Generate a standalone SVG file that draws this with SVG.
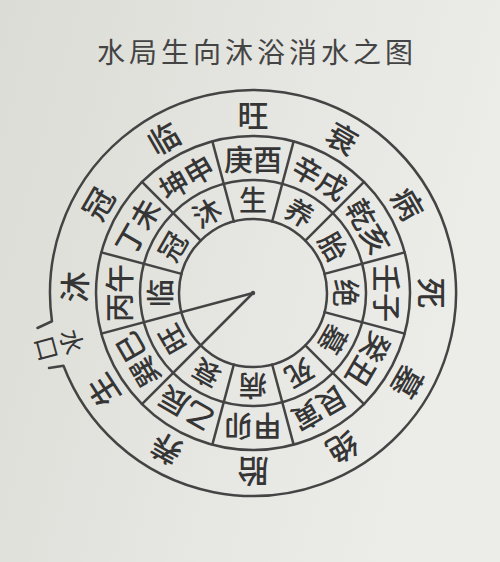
<svg xmlns="http://www.w3.org/2000/svg" width="500" height="562" viewBox="0 0 500 562">
<defs>
<linearGradient id="paper" x1="0" y1="0" x2="1" y2="0.3">
<stop offset="0" stop-color="#dcdcd6"/>
<stop offset="0.6" stop-color="#e6e6e2"/>
<stop offset="1" stop-color="#ecece9"/>
</linearGradient>
</defs>
<style>
.ln{fill:none;stroke:#444;stroke-width:2.5;stroke-linecap:round;stroke-linejoin:round}
text{font-family:"Noto Sans CJK SC","Noto Sans CJK TC",sans-serif;fill:#353535;text-anchor:middle;dominant-baseline:central}
.title{font-size:28px;letter-spacing:4px;fill:#444}
.outer{font-size:31px;font-weight:500}
.mid{font-size:29px;font-weight:500}
.inner{font-size:28px;font-weight:500}
.small{font-size:25px}
</style>
<rect width="500" height="562" fill="url(#paper)"/>
<text class="title" x="257" y="51">水局生向沐浴消水之图</text>

<g id="rings" class="ln">
<path d="M37.5,328 L51.97,321.25 A203,203 0 1 1 63.48,365.75 L49,368"/>
<circle cx="253" cy="293" r="157"/>
<circle cx="253" cy="293" r="113"/>
<circle cx="253" cy="293" r="74"/>
</g>

<g id="connectors" class="ln" transform="translate(253,293)">
<line x1="0" y1="-74" x2="0" y2="-157" transform="rotate(15)"/>
<line x1="0" y1="-74" x2="0" y2="-157" transform="rotate(45)"/>
<line x1="0" y1="-74" x2="0" y2="-157" transform="rotate(75)"/>
<line x1="0" y1="-74" x2="0" y2="-157" transform="rotate(105)"/>
<line x1="0" y1="-74" x2="0" y2="-157" transform="rotate(135)"/>
<line x1="0" y1="-74" x2="0" y2="-157" transform="rotate(165)"/>
<line x1="0" y1="-74" x2="0" y2="-157" transform="rotate(195)"/>
<line x1="0" y1="0" x2="0" y2="-157" transform="rotate(225)"/>
<line x1="0" y1="0" x2="0" y2="-157" transform="rotate(255)"/>
<line x1="0" y1="-74" x2="0" y2="-157" transform="rotate(285)"/>
<line x1="0" y1="-74" x2="0" y2="-157" transform="rotate(315)"/>
<line x1="0" y1="-74" x2="0" y2="-157" transform="rotate(345)"/>
<circle cx="0" cy="0" r="2.2" fill="#444" stroke="none"/>
</g>

<g id="outer-stages" transform="translate(253,293)">
<text class="outer" transform="rotate(0) translate(0,-180)">旺</text>
<text class="outer" transform="rotate(30) translate(0,-180)">衰</text>
<text class="outer" transform="rotate(60) translate(0,-180)">病</text>
<text class="outer" transform="rotate(90) translate(0,-180)">死</text>
<text class="outer" transform="rotate(120) translate(0,-180)">墓</text>
<text class="outer" transform="rotate(150) translate(0,-180)">绝</text>
<text class="outer" transform="rotate(180) translate(0,-180)">胎</text>
<text class="outer" transform="rotate(209) translate(0,-180)">养</text>
<text class="outer" transform="rotate(237) translate(0,-180)">生</text>
<text class="outer" transform="rotate(272) translate(0,-180)">沐</text>
<text class="outer" transform="rotate(300) translate(0,-180)">冠</text>
<text class="outer" transform="rotate(330) translate(0,-180)">临</text>
</g>

<g id="water-mouth" transform="translate(253,293)">
<text class="small" transform="rotate(255) translate(0,-186) rotate(180)">水</text>
<text class="small" transform="rotate(255) translate(0,-212) rotate(180)">口</text>
</g>

<g id="branches" transform="translate(253,293)">
<text class="mid" transform="rotate(0) translate(0,-135)">庚酉</text>
<text class="mid" transform="rotate(30) translate(0,-135)">辛戌</text>
<text class="mid" transform="rotate(60) translate(0,-135)">乾亥</text>
<text class="mid" transform="rotate(90) translate(0,-135)">壬子</text>
<text class="mid" transform="rotate(120) translate(0,-135)">癸丑</text>
<text class="mid" transform="rotate(150) translate(0,-135)">艮寅</text>
<text class="mid" transform="rotate(180) translate(0,-135)">甲卯</text>
<text class="mid" transform="rotate(210) translate(0,-135)">乙辰</text>
<text class="mid" transform="rotate(240) translate(0,-135)">巽巳</text>
<text class="mid" transform="rotate(270) translate(0,-135)">丙午</text>
<text class="mid" transform="rotate(300) translate(0,-135)">丁未</text>
<text class="mid" transform="rotate(330) translate(0,-135)">坤申</text>
</g>

<g id="inner-stages" transform="translate(253,293)">
<text class="inner" transform="rotate(0) translate(0,-94)">生</text>
<text class="inner" transform="rotate(30) translate(0,-94)">养</text>
<text class="inner" transform="rotate(60) translate(0,-94)">胎</text>
<text class="inner" transform="rotate(90) translate(0,-94)">绝</text>
<text class="inner" transform="rotate(120) translate(0,-94)">墓</text>
<text class="inner" transform="rotate(150) translate(0,-94)">死</text>
<text class="inner" transform="rotate(180) translate(0,-94)">病</text>
<text class="inner" transform="rotate(210) translate(0,-94)">衰</text>
<text class="inner" transform="rotate(240) translate(0,-94)">旺</text>
<text class="inner" transform="rotate(270) translate(0,-94)">临</text>
<text class="inner" transform="rotate(300) translate(0,-94)">冠</text>
<text class="inner" transform="rotate(330) translate(0,-94)">沐</text>
</g>
</svg>
